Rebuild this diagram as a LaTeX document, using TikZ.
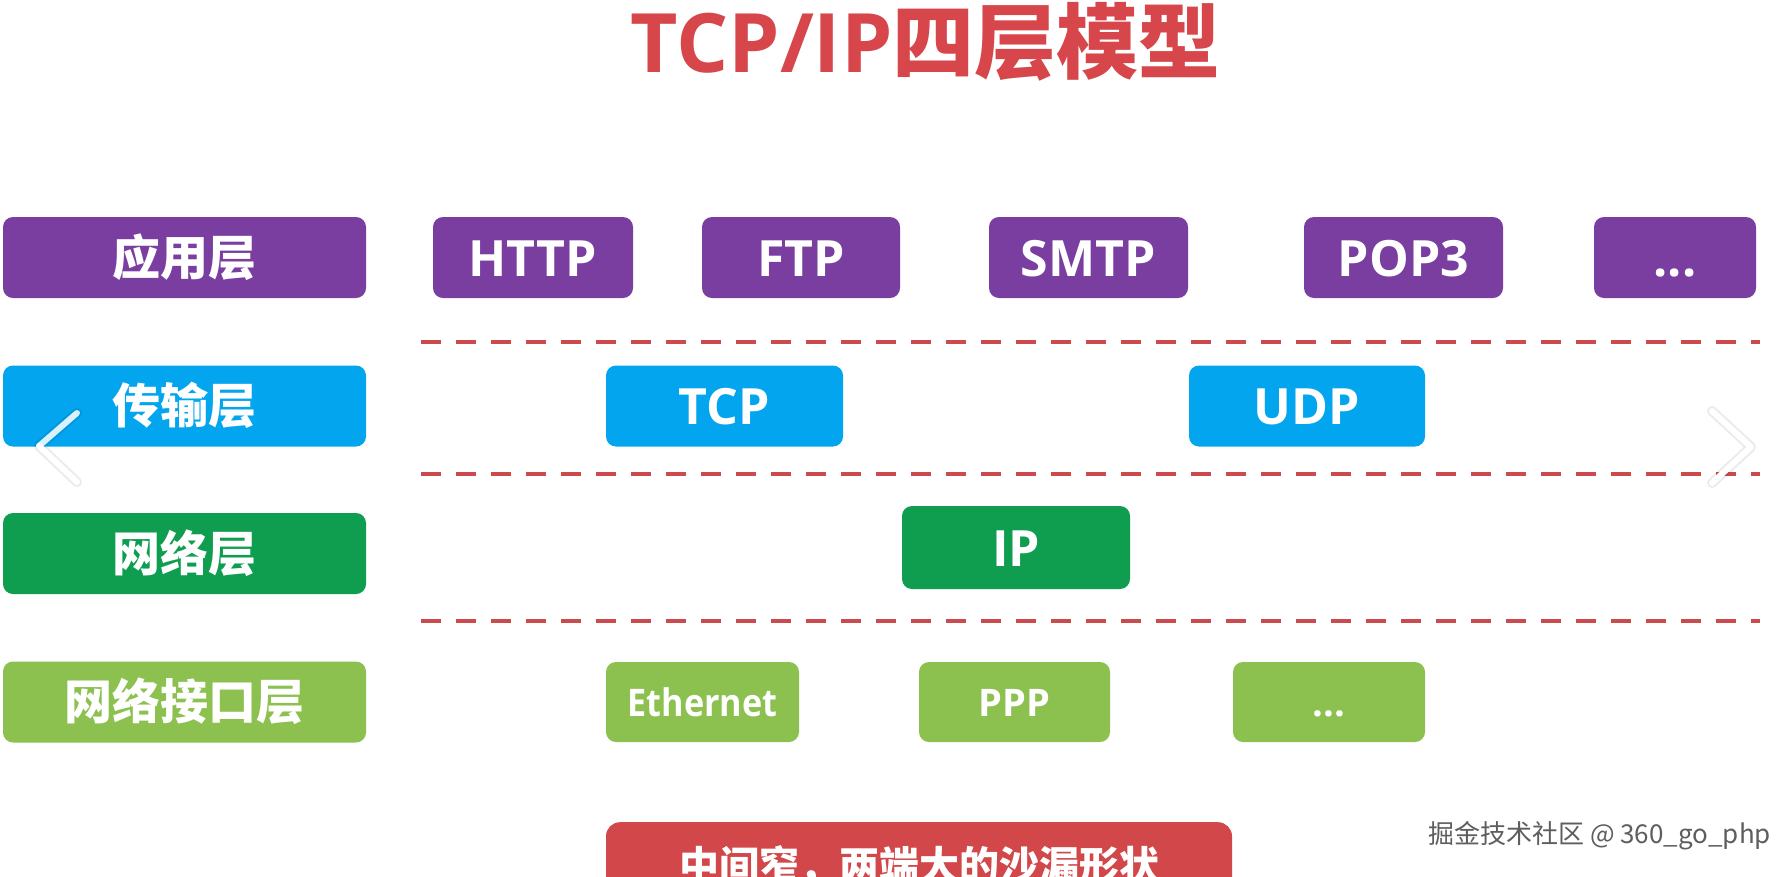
\documentclass[tikz,border=0pt]{standalone}
\usepackage{fontspec}
\usepackage{graphicx}
\setmainfont{Open Sans}
\newfontfamily\cjk{Noto Sans CJK SC}
\definecolor{cpurple}{HTML}{7A3EA1}
\definecolor{cblue}{HTML}{02A5EE}
\definecolor{cgreen}{HTML}{0F9D4F}
\definecolor{clgreen}{HTML}{8CC14F}
\definecolor{ctitle}{HTML}{D6464A}
\definecolor{cbox}{HTML}{D24749}
\definecolor{cdash}{HTML}{CC4A4D}
\definecolor{cwm}{HTML}{5E5E5E}
\tikzset{
  lay/.style={rounded corners=10pt, inner sep=0pt, text=white, minimum height=81pt},
  zh/.style={font=\cjk\bfseries\fontsize{48}{56}\selectfont, text height=35.5pt, text depth=0pt},
  en/.style={font=\bfseries\fontsize{50}{58}\selectfont, text height=37pt, text depth=0pt},
  ensm/.style={font=\bfseries\fontsize{38}{44}\selectfont, text height=28pt, text depth=0pt},
  sep/.style={cdash, line width=4pt, dash pattern=on 20pt off 15pt},
  chev/.style={line width=6pt, line cap=round, line join=round}
}
\begin{document}
\begin{tikzpicture}[x=1pt,y=-1pt]
\useasboundingbox (0,0) rectangle (1784,876);
\fill[white] (0,0) rectangle (1784,876);
% title
\node[anchor=base, inner sep=0pt, text=ctitle, font=\bfseries\fontsize{82}{92}\selectfont] (title) at (925.5,72) {TCP/IP{\cjk\bfseries 四层模型}};
% left column
\node[lay, zh, fill=cpurple, minimum width=363pt] (app) at (184.5,257.5) {应用层};
\node[lay, zh, fill=cblue, minimum width=363pt] (trans) at (184.5,406) {传输层};
\node[lay, zh, fill=cgreen, minimum width=363pt] (net) at (184.5,553.5) {网络层};
\node[lay, zh, fill=clgreen, minimum width=363pt] (link) at (184.5,702) {网络接口层};
% application protocols
\node[lay, en, fill=cpurple, minimum width=200pt] (http) at (533,257.5) {HTTP};
\node[lay, en, fill=cpurple, minimum width=198pt] (ftp) at (801,257.5) {FTP};
\node[lay, en, fill=cpurple, minimum width=199pt] (smtp) at (1088.5,257.5) {SMTP};
\node[lay, en, fill=cpurple, minimum width=199pt] (pop) at (1403.5,257.5) {POP3};
\node[lay, en, fill=cpurple, minimum width=162pt] (appmore) at (1675,257.5) {...};
% transport
\node[lay, en, fill=cblue, minimum width=237pt] (tcp) at (724.5,406) {TCP};
\node[lay, en, fill=cblue, minimum width=236pt] (udp) at (1307,406) {UDP};
% network
\node[lay, en, fill=cgreen, minimum width=228pt, minimum height=83pt] (ip) at (1016,547.5) {IP};
% link
\node[lay, ensm, fill=clgreen, minimum width=193pt, minimum height=80pt] (eth) at (702.5,702) {\scalebox{0.9}[1]{Ethernet}};
\node[lay, ensm, fill=clgreen, minimum width=191pt, minimum height=80pt] (ppp) at (1014.5,702) {PPP};
\node[lay, ensm, fill=clgreen, minimum width=192pt, minimum height=80pt] (linkmore) at (1329,702) {...};
% separators
\coordinate (s1a) at (421,342); \coordinate (s1b) at (1760,342);
\coordinate (s2a) at (421,474); \coordinate (s2b) at (1760,474);
\coordinate (s3a) at (421,621); \coordinate (s3b) at (1760,621);
\draw[sep] (s1a) -- (s1b);
\draw[sep] (s2a) -- (s2b);
\draw[sep] (s3a) -- (s3b);
% bottom box (cut off by the picture's lower edge, as in the reference)
\begin{scope}
\clip (0,0) rectangle (1784,876);
\node[rounded corners=14pt, fill=cbox, minimum width=626pt, minimum height=100pt, inner sep=0pt, anchor=north] (hour) at (919,822) {};
\node[anchor=base, inner sep=0pt, text=white, font=\cjk\bfseries\fontsize{40}{48}\selectfont] (hourtxt) at (919,880) {中间窄，两端大的沙漏形状};
\end{scope}
% watermark
\node[anchor=base west, inner sep=0pt, text=cwm, font=\cjk\fontsize{26}{30}\selectfont] (wm) at (1428,843) {掘金技术社区 @ 360\_go\_php};
% carousel chevrons
\coordinate (la) at (77,413); \coordinate (lp) at (39,446); \coordinate (lb) at (77,482);
\coordinate (ra) at (1712,411); \coordinate (rp) at (1751,447); \coordinate (rb) at (1712,483);
\draw[chev, line width=10pt, black, opacity=0.08] (la) -- (lp) -- (lb);
\draw[chev, white!85!cblue] (la) -- (lp);
\draw[chev, white] (lp) -- (lb);
\draw[chev, line width=10pt, black, opacity=0.08] (ra) -- (rp) -- (rb);
\draw[chev, white] (ra) -- (rp) -- (rb);
\end{tikzpicture}
\end{document}
